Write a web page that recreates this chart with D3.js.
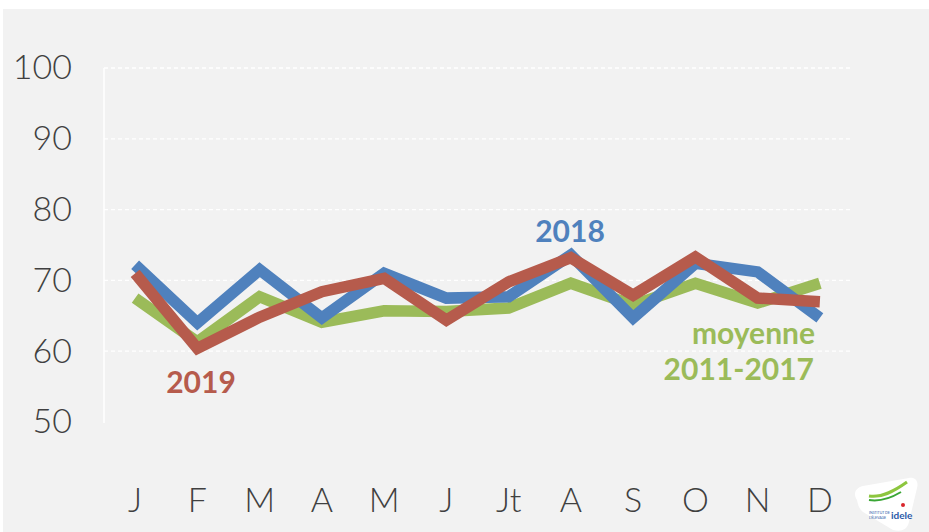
<!DOCTYPE html>
<html>
<head>
<meta charset="utf-8">
<script src="https://cdn.jsdelivr.net/npm/d3@7"></script>
<style>
  html, body { margin: 0; padding: 0; background: #ffffff; }
  svg { display: block; }
</style>
</head>
<body>
<div id="chart"></div>
<script>
// months (J = janvier ... Jt = juillet)
var mois = ["J", "F", "M", "A", "M", "J", "Jt", "A", "S", "O", "N", "D"];
var yTicks = [50, 60, 70, 80, 90, 100];

// values
var serie2018 = [72.2, 64.0, 71.5, 64.7, 71.0, 67.5, 67.7, 73.6, 64.7, 72.4, 71.2, 64.7];
var serie2019 = [71.0, 60.4, 64.8, 68.4, 70.3, 64.4, 69.8, 73.2, 67.9, 73.3, 67.5, 67.0];
var moyenne = [67.5, 61.3, 67.7, 64.1, 65.7, 65.6, 66.1, 69.6, 66.5, 69.6, 66.8, 69.6];

var COLOUR_2018 = "#4f81bd";
var COLOUR_2019 = "#b65b4c";
var COLOUR_MOY = "#9bbb59";
var FONT = "Lato, 'Open Sans', sans-serif";

var W = 929, H = 532;
var svg = d3.select("#chart").append("svg")
  .attr("width", W)
  .attr("height", H);

// grey panel
svg.append("rect")
  .attr("x", 3).attr("y", 9)
  .attr("width", W - 3).attr("height", H - 9)
  .attr("fill", "#f2f2f2");

var x = d3.scaleBand()
  .domain(d3.range(mois.length))
  .range([104, 851])
  .padding(0);

var y = d3.scaleLinear()
  .domain([50, 100])
  .range([422, 68]);

function cx(i) { return x(i) + x.bandwidth() / 2; }

// gridlines
svg.append("g")
  .selectAll("line")
  .data(yTicks.filter(function(d) { return d > 50; }))
  .enter().append("line")
  .attr("x1", 104).attr("x2", 851)
  .attr("y1", function(d) { return y(d); })
  .attr("y2", function(d) { return y(d); })
  .attr("stroke", "#ffffff")
  .attr("stroke-width", 1.3)
  .attr("stroke-dasharray", "4,3");

// left axis line
svg.append("line")
  .attr("x1", 104).attr("x2", 104)
  .attr("y1", y(100)).attr("y2", y(50) + 1)
  .attr("stroke", "#ffffff")
  .attr("stroke-width", 1.5);

// y labels
var gy = svg.append("g")
  .attr("transform", "translate(72,0)")
  .call(d3.axisLeft(y).tickValues(yTicks).tickSize(0).tickPadding(0));
gy.select(".domain").remove();
gy.selectAll("text")
  .attr("font-family", FONT)
  .attr("font-weight", 300)
  .attr("font-size", 34)
  .attr("fill", "#404040")
  .attr("dy", "0.32em");

// x labels
var gx = svg.append("g")
  .attr("transform", "translate(0,488)")
  .call(d3.axisBottom(x).tickSize(0).tickPadding(0).tickFormat(function(i) { return mois[i]; }));
gx.select(".domain").remove();
gx.selectAll("text")
  .attr("font-family", FONT)
  .attr("font-weight", 300)
  .attr("font-size", 34)
  .attr("fill", "#404040")
  .attr("dy", "0.72em");

var line = d3.line()
  .x(function(d, i) { return cx(i); })
  .y(function(d) { return y(d); });

[[moyenne, COLOUR_MOY], [serie2018, COLOUR_2018], [serie2019, COLOUR_2019]].forEach(function(s) {
  svg.append("path")
    .datum(s[0])
    .attr("fill", "none")
    .attr("stroke", s[1])
    .attr("stroke-width", 11.5)
    .attr("stroke-linejoin", "miter")
    .attr("d", line);
});

// series labels
function label(txt, px, py, colour, anchor) {
  svg.append("text")
    .attr("x", px).attr("y", py)
    .attr("text-anchor", anchor)
    .attr("font-family", FONT)
    .attr("font-weight", "bold")
    .attr("font-size", 30)
    .attr("fill", colour)
    .text(txt);
}
label("2018", 570, 242, COLOUR_2018, "middle");
label("2019", 201, 393, COLOUR_2019, "middle");
label("moyenne", 815, 344, COLOUR_MOY, "end");
label("2011-2017", 814, 380, COLOUR_MOY, "end");

// logo in the bottom right corner
var logo = svg.append("g").attr("transform", "translate(851,478)");
logo.append("path")
  .attr("d", "M6,22 C2,16 4,10 12,8 L58,0 C64,-1 68,3 66,10 L58,44 C56,52 50,54 42,52 L12,34 C8,31 7,27 6,22 Z")
  .attr("fill", "#ffffff");
logo.append("path")
  .attr("d", "M18,18 C30,20 42,14 56,4")
  .attr("fill", "none").attr("stroke", "#8dc63f").attr("stroke-width", 3);
logo.append("path")
  .attr("d", "M18,22 C30,24 40,20 50,14")
  .attr("fill", "none").attr("stroke", "#3aa635").attr("stroke-width", 2);
logo.append("circle")
  .attr("cx", 52).attr("cy", 27).attr("r", 2)
  .attr("fill", "#d9262c");
logo.append("text")
  .attr("x", 40).attr("y", 41)
  .attr("font-family", FONT)
  .attr("font-size", 10)
  .attr("font-weight", "bold")
  .attr("fill", "#2b5aa8")
  .text("idele");
logo.append("text")
  .attr("x", 18).attr("y", 36)
  .attr("font-family", FONT)
  .attr("font-size", 3.5)
  .attr("fill", "#2b5aa8")
  .text("INSTITUT DE");
logo.append("text")
  .attr("x", 18).attr("y", 40.5)
  .attr("font-family", FONT)
  .attr("font-size", 3.5)
  .attr("fill", "#2b5aa8")
  .text("L'ÉLEVAGE");
</script>
</body>
</html>
